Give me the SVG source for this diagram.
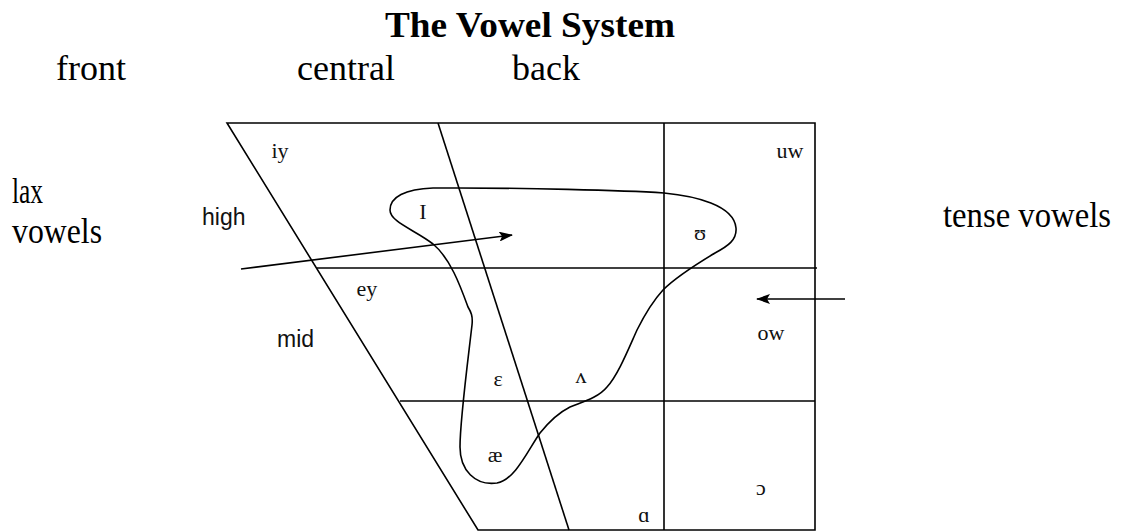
<svg xmlns="http://www.w3.org/2000/svg" width="1126" height="532" viewBox="0 0 1126 532">
<style>
.ln{stroke:#000;stroke-width:1.6;fill:none}
.big{font-family:"Liberation Serif","Times New Roman",serif;font-size:36px;fill:#000}
.sm{font-family:"Liberation Serif","Times New Roman",serif;font-size:22px;fill:#111;text-anchor:middle}
.sans{font-family:"Liberation Sans",Arial,sans-serif;font-size:23px;fill:#111}
</style>
<defs>
<marker id="ah" markerWidth="14" markerHeight="10" refX="13" refY="5" orient="auto" markerUnits="userSpaceOnUse">
<path d="M0,0 L14,5 L0,10 L3,5 Z" fill="#000"/>
</marker>
</defs>
<rect width="1126" height="532" fill="#fff"/>
<g id="title">
<text class="big" x="530" y="37" text-anchor="middle" font-weight="bold" textLength="290" lengthAdjust="spacingAndGlyphs">The Vowel System</text>
</g>
<g id="headers">
<text class="big" x="56" y="80">front</text>
<text class="big" x="297" y="80">central</text>
<text class="big" x="512" y="80">back</text>
</g>
<g id="lax">
<text class="big" x="12" y="203" textLength="31" lengthAdjust="spacingAndGlyphs">lax</text>
<text class="big" x="12" y="243" textLength="90" lengthAdjust="spacingAndGlyphs">vowels</text>
</g>
<g id="tense">
<text class="big" x="943" y="227" textLength="168" lengthAdjust="spacingAndGlyphs">tense vowels</text>
</g>
<g id="chart">
<path class="ln" d="M227,123 L815,123 L815,530 L478,530 Z"/>
<path class="ln" d="M438,123 L569,530"/>
<path class="ln" d="M664,123 L664,530"/>
<path class="ln" d="M317,268 L817,268"/>
<path class="ln" d="M400,401 L815,401"/>
</g>
<g id="lax-region">
<path class="ln" d="M458,188 C520,188 620,190 664,193 C695,196 734,205 736,228 C737,240 728,246 715,253 C700,262 675,278 663,290 C652,302 643,318 637,330 C628,350 618,375 607,387 C598,398 582,402 570,407 C558,413 548,423 540,433 C528,450 515,480 497,483 C475,486 460,470 460,447 C460,420 468,360 472,325 C473,316 471,312 468,307 C460,285 450,258 433,244 C415,230 390,222 390,210 C390,197 405,189 433,188 Z"/>
</g>
<g id="labels">
<text class="sans" x="202" y="225">high</text>
<text class="sans" x="277" y="347">mid</text>
<text class="sm" x="280" y="158">iy</text>
<text class="sm" x="423" y="219" font-size="17">I</text>
<text class="sm" x="367" y="296">ey</text>
<text class="sm" x="790" y="158">uw</text>
<text class="sm" x="700" y="240">ʊ</text>
<text class="sm" x="771" y="340">ow</text>
<text class="sm" x="498" y="386">ɛ</text>
<text class="sm" x="581" y="383">ʌ</text>
<text class="sm" x="495" y="462">æ</text>
<text class="sm" x="761" y="495">ɔ</text>
<text class="sm" x="644" y="522">ɑ</text>
</g>
<g id="connectors">
<path class="ln" d="M241,269 L512,235" marker-end="url(#ah)"/>
<path class="ln" d="M845,299 L757,299" marker-end="url(#ah)"/>
</g>
</svg>
